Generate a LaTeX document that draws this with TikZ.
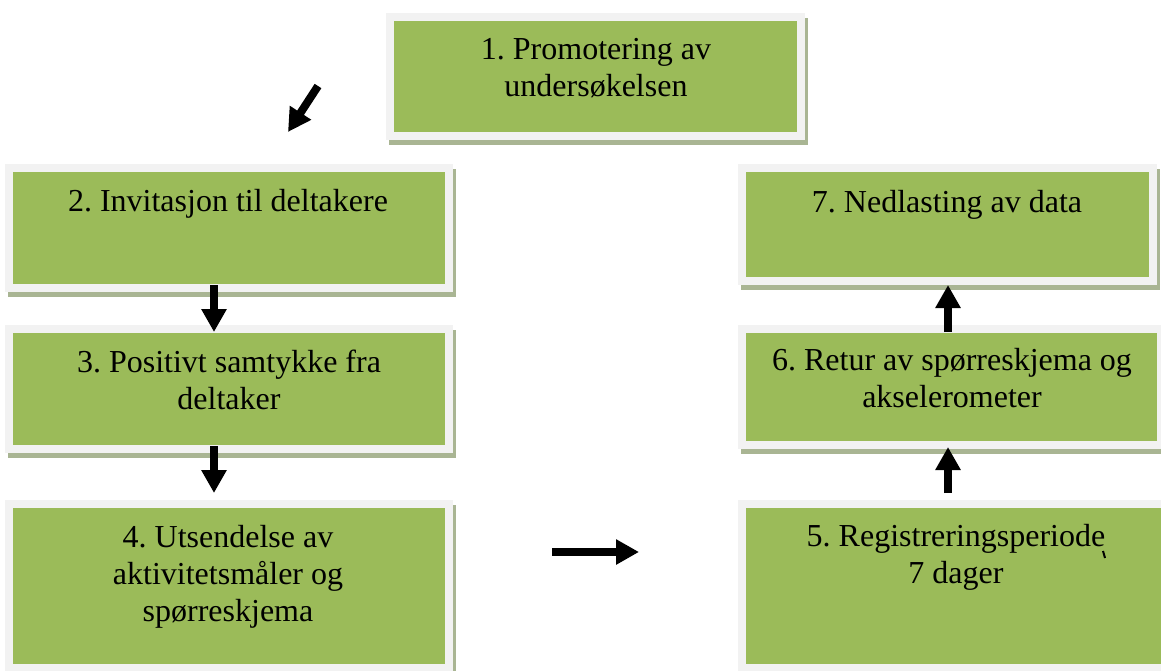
\documentclass[tikz,border=0pt]{standalone}
\usepackage{fontspec}
\setmainfont{Liberation Serif}
\usetikzlibrary{fit,backgrounds,arrows.meta}
\definecolor{boxgreen}{HTML}{9BBB59}
\definecolor{framegray}{HTML}{F2F2F2}
\definecolor{shadowc}{HTML}{A9B593}
\newcommand{\firststrut}{\rule{0pt}{12pt}}
\tikzset{
  stepbox/.style={rectangle, fill=boxgreen, draw=framegray, line width=4pt, inner sep=0pt},
  steptext/.style={anchor=north, inner sep=0pt, align=center, text=black,
    font=\fontsize{16pt}{18.5pt}\selectfont\frenchspacing},
  bigarrow/.style={line width=4pt, -{Triangle[width=12pt,length=11.5pt]}},
}
\newcommand{\boxshadow}[1]{%
  \fill[shadowc] ([xshift=1.5pt,yshift=-2.5pt]#1.south west) rectangle ([xshift=1.5pt,yshift=-2.5pt]#1.north east);}
\begin{document}
\begin{tikzpicture}[x=0.5pt,y=-0.5pt]
\useasboundingbox (0,0) rectangle (1161,670);
\clip (0,0) rectangle (1161,670);

% boxes (path at the middle of the light frame)
\node[stepbox, fit={(390,17) (801,136)}] (b1) {};
\node[stepbox, fit={(9,168) (449,288)}] (b2) {};
\node[stepbox, fit={(9,329) (449,449)}] (b3) {};
\node[stepbox, fit={(9,504) (449,668)}] (b4) {};
\node[stepbox, fit={(742,504) (1172,668)}] (b5) {};
\node[stepbox, fit={(742,329) (1161,445)}] (b6) {};
\node[stepbox, fit={(742,168) (1153,281)}] (b7) {};

\begin{scope}[on background layer]
  \fill[white] (0,0) rectangle (1161,670);
  \boxshadow{b1}\boxshadow{b2}\boxshadow{b3}\boxshadow{b4}
  \boxshadow{b5}\boxshadow{b6}\boxshadow{b7}
\end{scope}

% texts (first baseline 24px below the anchor)
\node[steptext] (t1) at (596,35) {\firststrut 1. Promotering av\\undersøkelsen};
\node[steptext] (t2) at (228,187) {\firststrut 2. Invitasjon til deltakere};
\node[steptext] (t3) at (229,348) {\firststrut 3. Positivt samtykke fra\\deltaker};
\node[steptext] (t4) at (228,523) {\firststrut 4. Utsendelse av\\aktivitetsmåler og\\spørreskjema};
\node[steptext] (t5) at (956,522) {\firststrut 5. Registreringsperiode\\7 dager};
\node[steptext] (t6) at (952,346) {\firststrut 6. Retur av spørreskjema og\\akselerometer};
\node[steptext] (t7) at (947,188) {\firststrut 7. Nedlasting av data};

% small stray tick after "Registreringsperiode"
\draw[line width=1pt] (1103,551) -- (1105,558);

% arrows
\coordinate (d1) at (318,86);
\coordinate (d2) at (288,132);
\draw[bigarrow] (d1) -- (d2);

\draw[bigarrow] ([xshift=-7.5pt,yshift=3.5pt]b2.south) -- ([xshift=-7.5pt,yshift=-3.5pt]b3.north);
\draw[bigarrow] ([xshift=-7.5pt,yshift=3.5pt]b3.south) -- ([xshift=-7.5pt,yshift=3.5pt]b4.north);

\coordinate (h1) at (552,552);
\coordinate (h2) at (639,552);
\draw[bigarrow] (h1) -- (h2);

\draw[bigarrow] ([xshift=-4.5pt,yshift=3.5pt]b5.north) -- ([xshift=-1.75pt,yshift=1pt]b6.south);
\draw[bigarrow] ([xshift=-1.75pt,yshift=-3.5pt]b6.north) -- ([xshift=0.25pt,yshift=0pt]b7.south);
\end{tikzpicture}
\end{document}
